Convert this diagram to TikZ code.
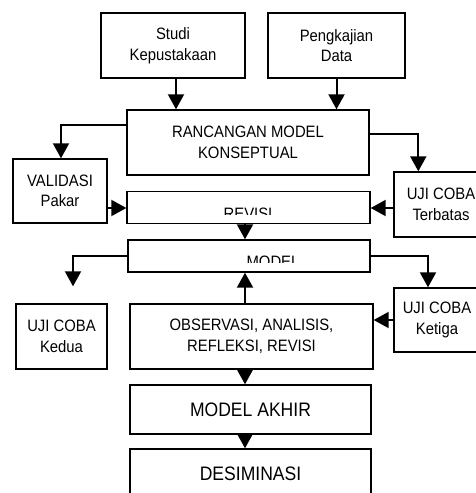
\documentclass[tikz,border=0pt]{standalone}
\usepackage{fontspec}
\setmainfont{Liberation Sans}[FakeStretch=0.9]
\usetikzlibrary{arrows.meta,calc}
\tikzset{
  >={Triangle[length=15pt,width=16pt]},
  box/.style={draw=black,line width=1.4pt,fill=white,inner sep=0pt,align=center,font=\fontsize{16.5}{20.5}\selectfont},
  bigbox/.style={box,font=\fontsize{19.5}{22}\selectfont},
  flow/.style={->,line width=2pt,draw=black},
  cut/.style={font=\fontsize{16.5}{20.5}\selectfont,inner sep=0pt,anchor=base}
}

\begin{document}
\begin{tikzpicture}[x=1pt,y=-1pt]
  \useasboundingbox (0,0) rectangle (476,493);
  \node[box,minimum width=144pt,minimum height=65pt] (studi) at (173,45.5) {Studi\\Kepustakaan};
  \node[box,minimum width=137pt,minimum height=65pt] (kaji) at (336.5,45.5) {Pengkajian\\Data};
  \node[box,minimum width=242pt,minimum height=65pt] (rancang) at (248,142.5) {RANCANGAN MODEL\\KONSEPTUAL};
  \node[box,minimum width=94pt,minimum height=64pt] (valid) at (60,191) {VALIDASI\\Pakar};
  \node[box,minimum width=94pt,minimum height=65pt] (terbatas) at (441,204.5) {UJI COBA\\Terbatas};
  \node[box,minimum width=243pt,minimum height=32pt] (revisi) at (248.5,207.5) {};
  \node[box,minimum width=242pt,minimum height=32pt] (model) at (249,256) {};
  \node[box,minimum width=91pt,minimum height=65pt] (kedua) at (61.5,336.5) {UJI COBA\\Kedua};
  \node[box,minimum width=86pt,minimum height=64pt] (ketiga) at (437,320) {UJI COBA\\Ketiga};
  \node[box,minimum width=243pt,minimum height=65pt] (obs) at (251.5,336.5) {OBSERVASI, ANALISIS,\\REFLEKSI, REVISI};
  \node[bigbox,minimum width=241pt,minimum height=49pt] (akhir) at (250.5,409.5) {MODEL AKHIR};
  \node[bigbox,minimum width=241pt,minimum height=49pt] (desim) at (250.5,473.5) {DESIMINASI};
  % labels cut off by the box
  \begin{scope}
    \clip (revisi.north west) rectangle ($(revisi.east)+(0,7)$);
    \node[cut] (revisitxt) at (248,219) {REVISI};
  \end{scope}
  \begin{scope}
    \clip (model.north west) rectangle ($(model.east)+(0,6.5)$);
    \node[cut] (modeltxt) at (273,267) {MODEL};
  \end{scope}
  \coordinate (col) at (245,0);
  \coordinate (s1) at ($(studi.south)+(3,0)$);
  \draw[flow] (s1) -- (s1 |- rancang.north);
  \draw[flow] (kaji.south) -- (kaji.south |- rancang.north);
  \draw[flow] ($(rancang.north west)+(0,16)$) -| ($(valid.north)+(1,0)$);
  \draw[flow] ($(rancang.north east)+(0,25)$) -| ($(terbatas.north west)+(25,0)$);
  \draw[flow] ($(valid.east)+(0,17)$) coordinate (v1) -- (v1 -| revisi.west);
  \draw[flow] ($(terbatas.west)+(0,3.5)$) coordinate (t1) -- (t1 -| revisi.east);
  \draw[flow] (revisi.south -| col) -- (model.north -| col);
  \draw[flow,shorten >=17pt] (model.west) -| ($(kedua.north)+(11.5,0)$);
  \draw[flow] (model.east) -| ($(ketiga.north)+(-9,0)$);
  \draw[flow] (obs.north -| col) -- (model.south -| col);
  \draw[flow] (ketiga.west) -- (ketiga.west -| obs.east);
  \draw[flow] (obs.south -| col) -- (akhir.north -| col);
  \draw[flow] (akhir.south -| col) -- (desim.north -| col);
\end{tikzpicture}
\end{document}
